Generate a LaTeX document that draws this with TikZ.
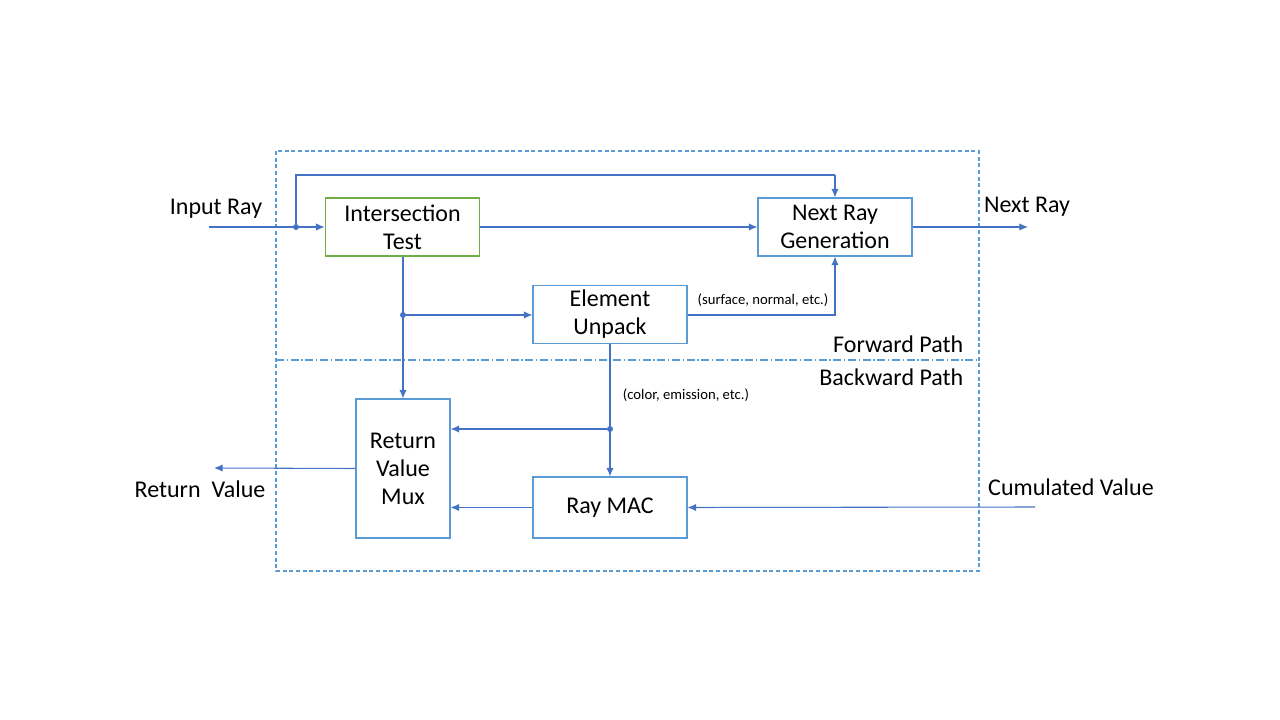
\documentclass[tikz,border=0pt]{standalone}
\usepackage{fontspec}
\setmainfont{Carlito}
\usetikzlibrary{arrows.meta}

\definecolor{lineblue}{HTML}{4472C4}
\definecolor{boxblue}{HTML}{5B9BD5}
\definecolor{boxgreen}{HTML}{70AD47}

\tikzset{
  block/.style={draw=boxblue, line width=0.8pt, align=center, font=\fontsize{18}{21}\selectfont},
  arr/.style={draw=lineblue, line width=0.8pt, -{Latex[length=6.5pt,width=5.5pt]}},
  wire/.style={draw=lineblue, line width=0.8pt},
  dot/.style={circle, fill=lineblue, inner sep=0pt, minimum size=4.5pt},
  lbl/.style={font=\fontsize{18}{21}\selectfont},
  small/.style={font=\fontsize{11}{13}\selectfont}
}

\begin{document}
\begin{tikzpicture}[x=0.75pt, y=-0.75pt]
  \useasboundingbox (0,0) rectangle (1280,720);

  % frame
  \draw[boxblue, line width=0.8pt, dash pattern=on 3pt off 2pt] (276,151) rectangle (979,571);
  \draw[boxblue, line width=0.8pt, dash pattern=on 6pt off 2pt on 1pt off 2pt] (276,360) -- (979,360);
  \node[lbl, anchor=east] (fwd) at (968,344) {Forward Path};
  \node[lbl, anchor=east] (bwd) at (968,377) {Backward Path};

  % blocks
  \node[block, draw=boxgreen, minimum width=116pt, minimum height=43.5pt] (it) at (402.5,227) {Intersection\\Test};
  \node[block, minimum width=115.5pt, minimum height=43.5pt] (nr) at (835,227) {Next Ray\\Generation};
  \node[block, minimum width=115.5pt, minimum height=42.75pt] (eu) at (610,314.5) {Element\\Unpack};
  \node[block, minimum width=70.5pt, minimum height=104.25pt] (mux) at (403,468.5) {Return\\Value\\Mux};
  \node[block, minimum width=115.5pt, minimum height=45.75pt] (mac) at (610,507.5) {Ray MAC};

  % outside labels
  \node[lbl] (inlbl) at (216,209) {Input Ray};
  \node[lbl] (nrlbl) at (1027,207) {Next Ray};
  \node[lbl] (rvlbl) at (200,489) {Return\ \ Value};
  \node[lbl] (cvlbl) at (1071,487) {Cumulated Value};
  \node[small] (snlbl) at (763,300) {(surface, normal, etc.)};
  \node[small] (celbl) at (686,395) {(color, emission, etc.)};

  % ends and joints
  \coordinate (in) at (209,227);
  \coordinate (out) at (1028,227);
  \coordinate (ret) at (214,468);
  \coordinate (cum) at (1035,507);
  \coordinate (top) at (835,175);
  \node[dot] (d1) at (296,227) {};
  \node[dot] (d2) at (403,315) {};
  \node[dot] (d3) at (610,429) {};

  % connectors
  \draw[arr] (in) -- (it.west);
  \draw[wire] (d1) |- (top);
  \draw[arr] (top) -- (nr.north);
  \draw[arr] (it.east) -- (nr.west);
  \draw[arr] (nr.east) -- (out);
  \draw[arr] (it.south -| d2) -- (mux.north -| d2);
  \draw[arr] (d2) -- (eu.west |- d2);
  \draw[arr] (eu.east |- d2) -| (nr.south);
  \draw[arr] (eu.south) -- (mac.north);
  \draw[arr] (d3) -- (mux.east |- d3);
  \draw[arr] (mac.west) -- (mux.east |- mac.west);
  \draw[arr] (cum) -- (mac.east);
  \draw[arr] (mux.west) -- (ret);
\end{tikzpicture}
\end{document}
